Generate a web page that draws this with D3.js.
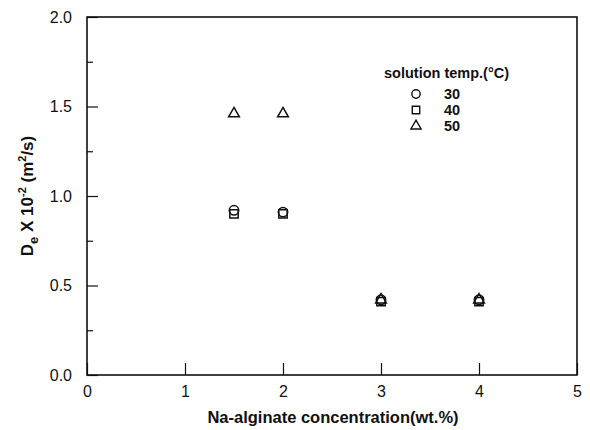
<!DOCTYPE html>
<html>
<head>
<meta charset="utf-8">
<script src="https://cdn.jsdelivr.net/npm/d3@7"></script>
<style>
  body { margin: 0; background: #fff; }
  text { font-family: "Liberation Sans", Arial, sans-serif; fill: #111; }
</style>
</head>
<body>
<script>
const width = 590;
const height = 430;
const margin = {top: 17, left: 87, bottom: 55, right: 13};

// Na-alginate concentration (wt.%)
const conc = [1.5, 2, 3, 4];
// De x 10^-2 (m2/s) by solution temperature
const temps = ['30', '40', '50'];
const de30 = [0.92, 0.91, 0.42, 0.42];
const de40 = [0.90, 0.90, 0.41, 0.41];
const de50 = [1.46, 1.46, 0.42, 0.42];
const xTicks = [0, 1, 2, 3, 4, 5];
const yTicks = [0.0, 0.5, 1.0, 1.5, 2.0];
const yMinor = [0.25, 0.75, 1.25, 1.75];

const series = [
  {temp: temps[0], values: de30, symbol: d3.symbolCircle},
  {temp: temps[1], values: de40, symbol: d3.symbolSquare},
  {temp: temps[2], values: de50, symbol: d3.symbolTriangle}
];

const x = d3.scaleLinear()
  .domain([0, 5])
  .range([margin.left, width - margin.right]);

const y = d3.scaleLinear()
  .domain([0, 2])
  .range([height - margin.bottom, margin.top]);

const svg = d3.select('body').append('svg')
  .attr('width', width)
  .attr('height', height);

// frame
svg.append('rect')
  .attr('x', x(0)).attr('y', y(2))
  .attr('width', x(5) - x(0)).attr('height', y(0) - y(2))
  .attr('fill', 'none').attr('stroke', '#111').attr('stroke-width', 1.6);

const xAxis = g => g
  .attr('transform', `translate(0, ${y(0)})`)
  .call(d3.axisBottom(x).tickValues(xTicks).tickFormat(d3.format('d'))
    .tickSizeInner(-12).tickSizeOuter(0).tickPadding(11))
  .call(g => g.select('.domain').remove())
  .call(g => g.selectAll('.tick line').attr('stroke', '#111').attr('stroke-width', 1.2))
  .call(g => g.selectAll('.tick text').attr('font-size', 16).attr('fill', '#111')
    .attr('font-family', '"Liberation Sans", Arial, sans-serif'));

const yAxis = g => g
  .attr('transform', `translate(${x(0)}, 0)`)
  .call(d3.axisLeft(y).tickValues(yTicks).tickFormat(d3.format('.1f'))
    .tickSizeInner(-11).tickSizeOuter(0).tickPadding(15))
  .call(g => g.select('.domain').remove())
  .call(g => g.selectAll('.tick line').attr('stroke', '#111').attr('stroke-width', 1.2))
  .call(g => g.selectAll('.tick text').attr('font-size', 16).attr('fill', '#111')
    .attr('font-family', '"Liberation Sans", Arial, sans-serif'));

const yMinorAxis = g => g
  .attr('transform', `translate(${x(0)}, 0)`)
  .call(d3.axisLeft(y).tickValues(yMinor).tickFormat('')
    .tickSizeInner(-6).tickSizeOuter(0))
  .call(g => g.select('.domain').remove())
  .call(g => g.selectAll('.tick line').attr('stroke', '#111').attr('stroke-width', 1.2));

svg.append('g').call(xAxis);
svg.append('g').call(yAxis);
svg.append('g').call(yMinorAxis);

// points
series.forEach(s => {
  svg.append('g')
    .selectAll('path').data(conc).enter().append('path')
    .attr('transform', (d, i) => `translate(${x(d)}, ${y(s.values[i])})`)
    .attr('d', d3.symbol().type(s.symbol).size(s.symbol === d3.symbolTriangle ? 50 : 70))
    .attr('fill', 'none')
    .attr('stroke', '#111')
    .attr('stroke-width', 1.5);
});

// legend
const legend = svg.append('g').attr('transform', 'translate(384, 78)');
legend.append('text')
  .attr('x', 0).attr('y', 0)
  .attr('font-size', 14.5).attr('font-weight', 'bold')
  .text('solution temp.(°C)');
series.forEach((s, i) => {
  const row = legend.append('g').attr('transform', `translate(0, ${21 + i * 16})`);
  row.append('path')
    .attr('transform', 'translate(32, -5)')
    .attr('d', d3.symbol().type(s.symbol).size(s.symbol === d3.symbolTriangle ? 45 : 55))
    .attr('fill', 'none').attr('stroke', '#111').attr('stroke-width', 1.4);
  row.append('text')
    .attr('x', 60).attr('y', 0)
    .attr('font-size', 14.5).attr('font-weight', 'bold')
    .text(s.temp);
});

// axis titles
svg.append('text')
  .attr('x', (x(0) + x(5)) / 2 + 1)
  .attr('y', 423)
  .attr('text-anchor', 'middle')
  .attr('font-size', 16.5).attr('font-weight', 'bold')
  .text('Na-alginate concentration(wt.%)');

const yTitle = svg.append('text')
  .attr('transform', `translate(33, 196) rotate(-90)`)
  .attr('text-anchor', 'middle')
  .attr('font-size', 17).attr('font-weight', 'bold');
yTitle.append('tspan').text('D');
yTitle.append('tspan').attr('font-size', 13).attr('dy', 5).text('e');
yTitle.append('tspan').attr('dy', -5).text(' X 10');
yTitle.append('tspan').attr('font-size', 11).attr('dy', -7).text('-2');
yTitle.append('tspan').attr('dy', 7).text(' (m');
yTitle.append('tspan').attr('font-size', 11).attr('dy', -7).text('2');
yTitle.append('tspan').attr('dy', 7).text('/s)');
</script>
</body>
</html>
